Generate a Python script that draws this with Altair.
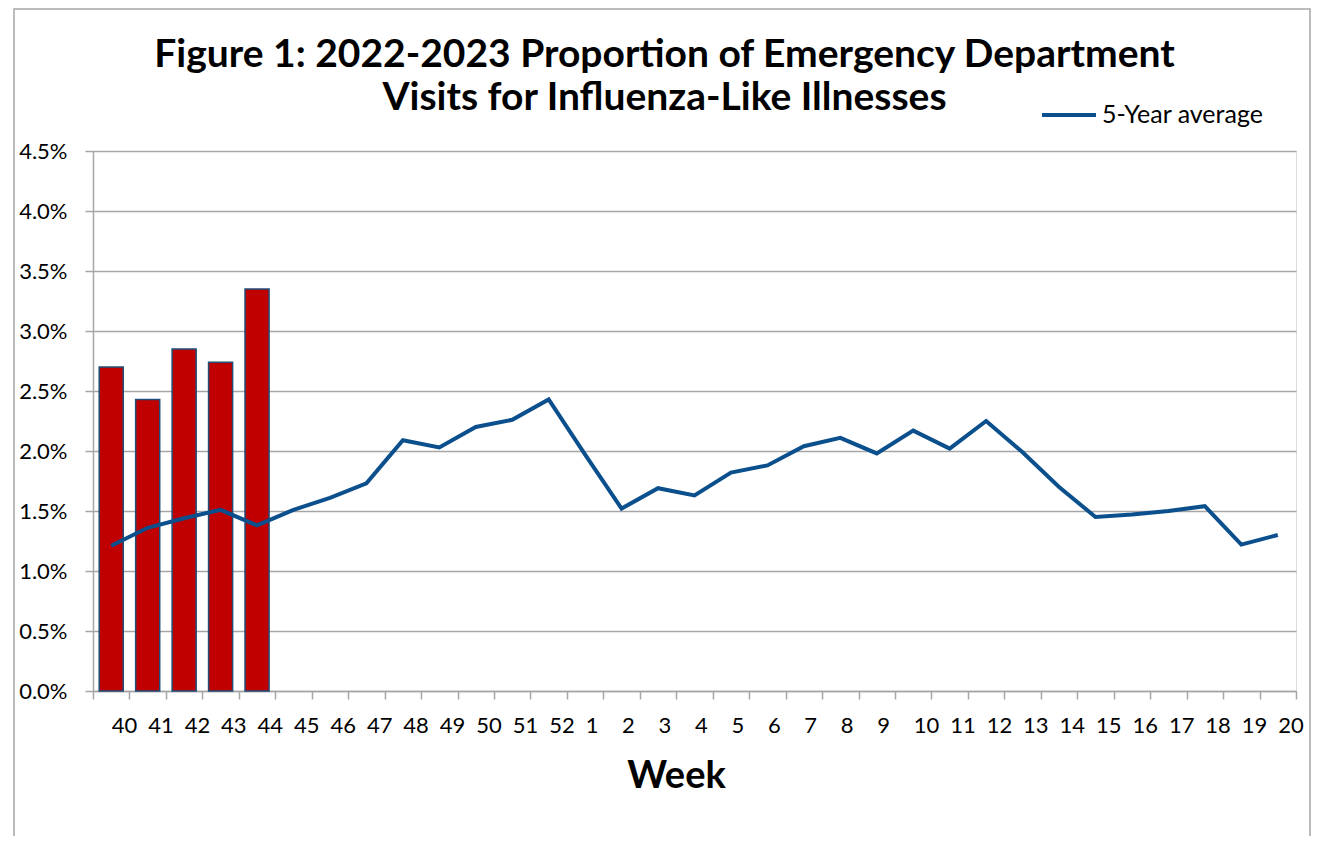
import altair as alt
import pandas as pd

weeks = ["40", "41", "42", "43", "44", "45", "46", "47", "48", "49", "50", "51", "52",
         "1", "2", "3", "4", "5", "6", "7", "8", "9", "10", "11", "12", "13", "14",
         "15", "16", "17", "18", "19", "20"]
current_weeks = ["40", "41", "42", "43", "44"]
current_pct = [2.70, 2.43, 2.85, 2.74, 3.35]
avg5_pct = [1.21, 1.36, 1.44, 1.51, 1.38, 1.51, 1.61, 1.73, 2.09, 2.03, 2.20, 2.26, 2.43,
            1.97, 1.52, 1.69, 1.63, 1.82, 1.88, 2.04, 2.11, 1.98, 2.17, 2.02, 2.25, 1.99,
            1.70, 1.45, 1.47, 1.50, 1.54, 1.22, 1.30]
series_name = "5-Year average"
y_ticks = [0, 0.005, 0.01, 0.015, 0.02, 0.025, 0.03, 0.035, 0.04, 0.045]

df_bar = pd.DataFrame({"week": current_weeks, "value": [v / 100 for v in current_pct]})
df_line = pd.DataFrame({"week": weeks, "value": [v / 100 for v in avg5_pct],
                        "series": [series_name] * len(weeks)})

FONT = "Lato"
GRID = "#a6a6a6"
W, H = 1203, 540

xscale = alt.Scale(domain=weeks, paddingInner=0, paddingOuter=0)
yscale = alt.Scale(domain=[0, 0.045], nice=False)

xaxis = alt.Axis(
    title="Week", titleFont=FONT, titleFontSize=38, titleFontWeight="bold",
    titleColor="black", titleX=583, titleY=96, titleBaseline="alphabetic",
    labelAngle=0, labelFont=FONT, labelFontSize=22, labelColor="black",
    labelAlign="left", labelPadding=16, labelOverlap=False,
    tickBand="extent", tickSize=8, tickColor=GRID, tickWidth=1.5,
    domainColor=GRID, domainWidth=1.5, grid=False,
)
yaxis = alt.Axis(
    title=None, values=y_ticks, format=".1%", labelFont=FONT, labelFontSize=22,
    labelColor="black", labelPadding=18, tickSize=8, tickColor=GRID, tickWidth=1.5,
    domainColor=GRID, domainWidth=1.5, grid=True, gridColor=GRID, gridWidth=1.5,
)

border = alt.Chart(df_line.head(1)).mark_rect(
    fillOpacity=0, stroke=GRID, strokeWidth=1.5
).encode(
    x=alt.value(-79), x2=alt.value(1217), y=alt.value(-142), y2=alt.value(720)
)

bars = alt.Chart(df_bar).mark_bar(
    color="#c00000", stroke="#1f4e79", strokeWidth=1.5, width={"band": 0.66}
).encode(
    x=alt.X("week:N", sort=weeks, scale=xscale, axis=xaxis),
    y=alt.Y("value:Q", scale=yscale, axis=yaxis),
)

line = alt.Chart(df_line).mark_line(strokeWidth=4).encode(
    x=alt.X("week:N", sort=weeks, scale=xscale),
    y=alt.Y("value:Q", scale=yscale),
    color=alt.Color(
        "series:N",
        scale=alt.Scale(domain=[series_name], range=["#0b4f8c"]),
        legend=alt.Legend(
            title=None, orient="none", legendX=947, legendY=-65,
            symbolType="stroke", symbolSize=2916, symbolStrokeWidth=4,
            labelFont=FONT, labelFontSize=25, labelColor="black", labelOffset=4,
            labelLimit=400, padding=0,
        ),
    ),
)

chart = alt.layer(border, bars, line).properties(
    width=W, height=H,
    title=alt.TitleParams(
        text=["Figure 1: 2022-2023 Proportion of Emergency Department",
              "Visits for Influenza-Like Illnesses"],
        font=FONT, fontSize=39, fontWeight="bold", color="black",
        anchor="middle", dx=-30, lineHeight=43, offset=-110,
    ),
    autosize=alt.AutoSizeParams(type="none"),
    padding={"left": 85, "top": 143, "right": 17, "bottom": 145},
).configure_view(stroke=None).configure(background="white")

chart.save("out.html", embed_options={"renderer": "svg", "actions": False})
